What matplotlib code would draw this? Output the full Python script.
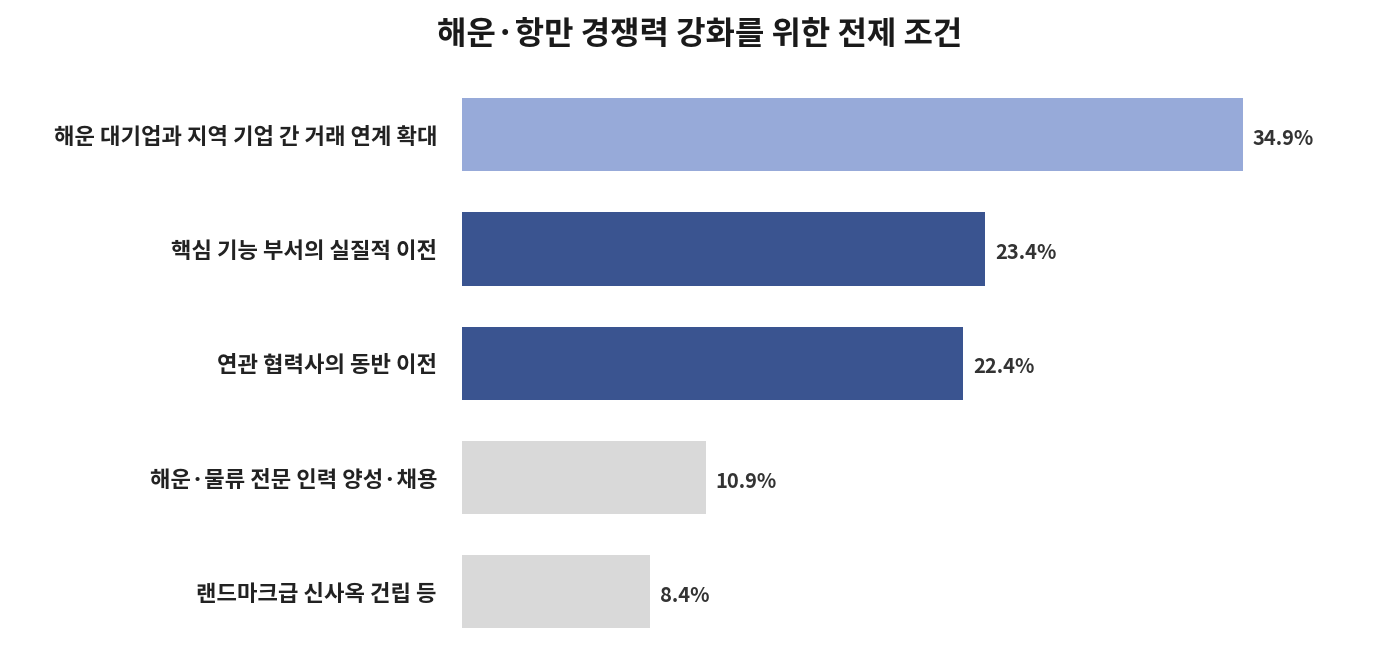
import matplotlib
matplotlib.use("Agg")
import matplotlib.pyplot as plt

plt.rcParams['font.family'] = ['Noto Sans CJK KR', 'DejaVu Sans']

title = "해운·항만 경쟁력 강화를 위한 전제 조건"
categories = ["해운 대기업과 지역 기업 간 거래 연계 확대",
              "핵심 기능 부서의 실질적 이전",
              "연관 협력사의 동반 이전",
              "해운·물류 전문 인력 양성·채용",
              "랜드마크급 신사옥 건립 등"]
values = [34.9, 23.4, 22.4, 10.9, 8.4]
colors = ["#97AAD9", "#3A5490", "#3A5490", "#D9D9D9", "#D9D9D9"]

fig = plt.figure(figsize=(14, 6.66), dpi=100)
ax = fig.add_axes([0.33, 0.0255, 0.639, 0.858])
y = list(range(len(categories)))
ax.barh(y, values, height=0.64, color=colors)
ax.set_ylim(len(categories) - 0.5, -0.5)
ax.set_xlim(0, 40)
for yi, v in zip(y, values):
    ax.text(v + 0.45, yi + 0.03, f"{v}%", va='center', ha='left', fontsize=14.5,
            fontweight='bold', color='#333333')
ax.set_yticks(y)
ax.set_yticklabels(categories, fontsize=16, fontweight='bold', color='#222222')
ax.tick_params(axis='y', length=0, pad=18)
ax.set_xticks([])
for s in ax.spines.values():
    s.set_visible(False)
fig.text(0.5, 0.947, title, ha='center', va='center', fontsize=23,
         fontweight='bold', color='#1a1a1a')
fig.savefig("out.png", dpi=100, facecolor='white')
